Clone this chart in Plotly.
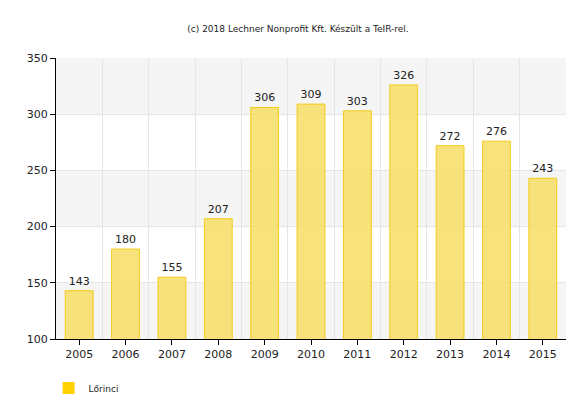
import plotly.graph_objects as go

years = [2005, 2006, 2007, 2008, 2009, 2010, 2011, 2012, 2013, 2014, 2015]
values = [143, 180, 155, 207, 306, 309, 303, 326, 272, 276, 243]
series_name = "Lőrinci"
title = "(c) 2018 Lechner Nonprofit Kft. Készült a TeIR-rel."

fig = go.Figure()
for y0, y1 in [(100, 150), (200, 250), (300, 350)]:
    fig.add_shape(type="rect", xref="paper", x0=0, x1=1, yref="y", y0=y0, y1=y1,
                  fillcolor="#f5f5f5", line_width=0, layer="below")
fig.add_trace(go.Bar(x=years, y=values, name=series_name, width=0.6, showlegend=False,
                     marker=dict(color="rgba(247,221,100,0.85)", line=dict(color="#f2cc1a", width=1)),
                     text=values, textposition="outside", cliponaxis=False,
                     textfont=dict(family="DejaVu Sans", size=11, color="#222")))
fig.add_trace(go.Bar(x=[None], y=[None], name=series_name, showlegend=True,
                     marker=dict(color="#ffd200", line=dict(width=0))))
fig.update_layout(
    width=580, height=400, margin=dict(l=48, r=22, t=50, b=69, autoexpand=False),
    plot_bgcolor="white", paper_bgcolor="white",
    font=dict(family="DejaVu Sans", size=11, color="#222"),
    title=dict(text=title, x=0.5, xanchor="center", y=0.955, font=dict(size=9)),
    showlegend=True,
    legend=dict(orientation="h", x=0.07, y=0.05, xanchor="left", yanchor="middle",
                yref="container", xref="container",
                font=dict(size=9), itemsizing="constant"),
    xaxis=dict(range=[2004.5, 2015.5], tickvals=years, showgrid=False, automargin=False,
               ticks="outside", ticklen=5, tickcolor="#000", showline=True, linecolor="#000",
               minor=dict(tick0=2004.5, dtick=1, showgrid=True, gridcolor="#e6e6e6", ticks="")),
    yaxis=dict(range=[100, 350], dtick=50, showgrid=True, gridcolor="#e6e6e6", automargin=False,
               ticks="outside", ticklen=5, tickcolor="#000", showline=True, linecolor="#000",
               zeroline=False),
)
fig.write_html("out.html")
